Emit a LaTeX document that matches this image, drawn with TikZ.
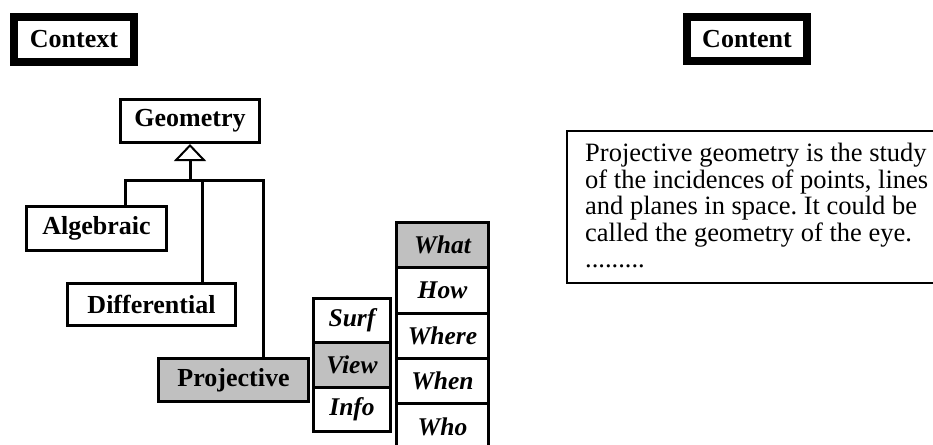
\documentclass[tikz,border=0pt]{standalone}
\usepackage{fontspec}
\setmainfont{Liberation Serif}
\usetikzlibrary{arrows.meta}
\definecolor{shade}{RGB}{192,192,192}
\frenchspacing
\begin{document}
\begin{tikzpicture}[x=1pt,y=-1pt,
  lbl/.style={font=\fontsize{26}{28}\selectfont\bfseries},
  box/.style={draw, line width=3pt, fill=white, inner sep=0pt, lbl},
  heading/.style={draw, line width=8pt, inner sep=0pt, lbl},
  cell/.style={draw, line width=3pt, inner sep=0pt, fill=white,
    font=\fontsize{25.5}{27}\selectfont\bfseries\itshape},
  conn/.style={line width=3pt},
  prose/.style={inner sep=0pt, font=\fontsize{26.5}{26.7}\selectfont},
]
\useasboundingbox (0,0) rectangle (933,444);
\clip (0,0) rectangle (933,444);

% headings
\node[heading, minimum width=120pt, minimum height=45pt] (context) at (74,39.5) {Context};
\node[heading, minimum width=120pt, minimum height=44pt] (content) at (747,39) {Content};

% class hierarchy
\node[box, minimum width=139pt, minimum height=43pt] (geo) at (190,121) {Geometry};
\node[box, minimum width=140pt, minimum height=44pt] (alg) at (96.5,228.5) {Algebraic};
\node[box, minimum width=168pt, minimum height=42pt] (diff) at (151.5,304.5) {Differential};
\node[box, fill=shade, minimum width=150pt, minimum height=43pt] (proj) at (233.5,380) {Projective};

\coordinate (jn) at (190,180);
\coordinate (jA) at (125,180);
\coordinate (jD) at (202,180);
\coordinate (jP) at (263,180);

\draw[conn] (jA |- alg.north) -- (jA) -- (jP) -- (jP |- proj.north);
\draw[conn] (jD) -- (jD |- diff.north);
\draw[conn, -{Triangle[open, length=17pt, width=32pt, line width=2pt]}] (jn) -- (geo.south);

% facet columns
\node[cell, minimum width=77pt, minimum height=44.3pt] (surf) at (352,320.7) {Surf};
\node[cell, fill=shade, minimum width=77pt, minimum height=44.3pt] (view) at (352,365) {View};
\node[cell, minimum width=77pt, minimum height=44.3pt] (info) at (352,409.3) {Info};

\node[cell, fill=shade, minimum width=92pt, minimum height=45.3pt] (what) at (442.5,245.2) {What};
\node[cell, minimum width=92pt, minimum height=45.3pt] (how) at (442.5,290.5) {How};
\node[cell, minimum width=92pt, minimum height=45.3pt] (where) at (442.5,335.8) {Where};
\node[cell, minimum width=92pt, minimum height=45.3pt] (when) at (442.5,381.1) {When};
\node[cell, minimum width=92pt, minimum height=45.3pt] (who) at (442.5,426.4) {Who};

% description panel
\node[draw, line width=1.5pt, anchor=north west, inner sep=0pt,
  minimum width=380pt, minimum height=152pt] (panel) at (566,130) {};
\node[prose, anchor=north west, align=left] (desc) at (585,143)
  {Projective geometry is the study\\of the incidences of points, lines\\and planes in space. It could be\\called the geometry of the eye.};
\node[prose, anchor=base west] (more) at (585,267) {.........};
\end{tikzpicture}
\end{document}
